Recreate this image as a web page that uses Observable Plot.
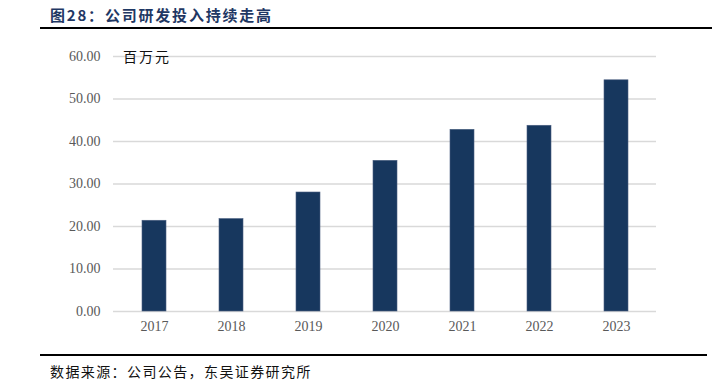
<!DOCTYPE html>
<html>
<head>
<meta charset="utf-8">
<script src="https://cdn.jsdelivr.net/npm/d3@7"></script>
<script src="https://cdn.jsdelivr.net/npm/@observablehq/plot@0.6"></script>
<style>
  html, body { margin: 0; padding: 0; background: #fff; }
  #wrap { position: relative; width: 712px; height: 387px; overflow: hidden; }
  #title { position: absolute; left: 50px; top: 4px; font-family: "Noto Sans CJK SC", sans-serif; font-weight: 700; font-size: 15px; letter-spacing: 1.8px; color: #1f3864; line-height: 22px; }
  #tline { position: absolute; left: 40px; right: 0; top: 27px; height: 2px; background: #000; }
  #chart { position: absolute; left: 0; top: 30px; }
  #unit { position: absolute; left: 123px; top: 46px; font-family: "Noto Sans CJK SC", sans-serif; font-size: 14px; letter-spacing: 2px; color: #111; line-height: 20px; }
  #bline { position: absolute; left: 40px; width: 667px; top: 354px; height: 2px; background: #000; }
  #source { position: absolute; left: 50px; top: 361px; font-family: "Noto Sans CJK SC", sans-serif; font-size: 14px; letter-spacing: 1.4px; color: #111; line-height: 20px; }
</style>
</head>
<body>
<div id="wrap">
  <div id="title">图28：公司研发投入持续走高</div>
  <div id="tline"></div>
  <div id="chart"></div>
  <div id="unit">百万元</div>
  <div id="bline"></div>
  <div id="source">数据来源：公司公告，东吴证券研究所</div>
</div>
<script>
const years = ["2017", "2018", "2019", "2020", "2021", "2022", "2023"];
const rd = [21.35, 21.75, 28.0, 35.45, 42.75, 43.7, 54.4];
const yTicks = [0, 10, 20, 30, 40, 50, 60];

const data = years.map((y, i) => ({year: y, value: rd[i]}));

const chart = Plot.plot({
  width: 712,
  height: 320,
  marginTop: 26,
  marginBottom: 39,
  marginLeft: 113,
  marginRight: 56,
  style: {fontFamily: "'Liberation Serif', 'Times New Roman', serif", fontSize: "14px", color: "#595959", background: "#fff"},
  x: {domain: years, paddingInner: 0.69, paddingOuter: 0.345, label: null, tickSize: 0, tickPadding: 10},
  y: {domain: [0, 60], ticks: yTicks, tickFormat: d => d.toFixed(2), label: null, tickSize: 0, tickPadding: 13},
  marks: [
    Plot.gridY(yTicks, {stroke: "#d9d9d9", strokeOpacity: 1, strokeWidth: 1.5}),
    Plot.barY(data, {x: "year", y: "value", fill: "#17375e", stroke: "#4a5f80", strokeWidth: 0.6})
  ]
});
document.getElementById("chart").appendChild(chart);
</script>
</body>
</html>
